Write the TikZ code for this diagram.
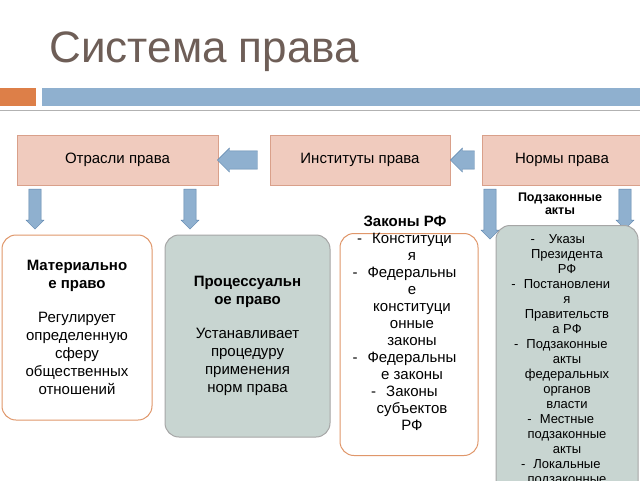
\documentclass[tikz,border=0pt]{standalone}
\usepackage{fontspec}
\setmainfont{Liberation Sans}
\usetikzlibrary{shapes.arrows}
\definecolor{boxpink}{HTML}{F0CBBE}
\definecolor{boxedge}{HTML}{D9A08A}
\definecolor{gboxfill}{HTML}{C8D5D1}
\definecolor{arrblue}{HTML}{8FB0CF}
\definecolor{arredge}{HTML}{5F86AE}
\definecolor{orangeedge}{HTML}{E0976A}
\definecolor{titlecol}{HTML}{6E5E57}
\definecolor{obar}{HTML}{DD7F48}
\begin{document}
\begin{tikzpicture}[x=1pt,y=-1pt,
  top/.style={draw=boxedge,fill=boxpink,minimum height=50pt,font=\fontsize{15}{17}\selectfont},
  rbox/.style={draw=orangeedge,line width=1pt,rounded corners=14pt,align=center,inner sep=2pt},
  gbox/.style={draw=gray!70,fill=gboxfill,line width=1pt,rounded corners=14pt,align=center,inner sep=2pt},
  darr/.style={single arrow,draw=arredge,fill=arrblue,shape border rotate=270,minimum width=18pt,single arrow head extend=2pt,single arrow tip angle=90,inner sep=4pt,minimum height=40pt},
  larr/.style={single arrow,draw=arredge,fill=arrblue,shape border rotate=180,minimum width=24pt,single arrow head extend=2pt,inner sep=6pt}]
\clip (0,0) rectangle (640,480);
\fill[white] (0,0) rectangle (640,480);
\node[anchor=west,text=titlecol,font=\fontsize{44}{46}\selectfont] (title) at (46,52) {Система права};
\fill[obar] (0,88) rectangle (36,106);
\fill[arrblue] (42,88) rectangle (640,106);
\draw[gray!60] (0,110) -- (640,110);
\node[top,minimum width=201pt] (otr) at (117.5,160) {Отрасли права};
\node[top,minimum width=180pt] (inst) at (360,160) {Институты права};
\node[top,minimum width=160pt] (norm) at (562,160) {Нормы права};
\node[larr,minimum height=24pt] (a1) at (467,160) {};
\node[larr,minimum height=40pt] (a2) at (242,160) {};
\node[darr] (d1) at (35,206) {};
\node[darr] (d2) at (190,206) {};
\node[darr,minimum height=50pt] (d3) at (490,211) {};
\node[darr] (d4) at (625,206) {};
\node[rbox,minimum width=150pt,minimum height=185pt,font=\fontsize{15}{18}\selectfont] (mat) at (77,327.5)
 {\textbf{Материально}\\\textbf{е право}\\[16pt]Регулирует\\определенную\\сферу\\общественных\\отношений};
\node[gbox,minimum width=165pt,minimum height=202pt,font=\fontsize{15}{18}\selectfont] (proc) at (247.5,336)
 {\textbf{Процессуальн}\\\textbf{ое право}\\[16pt]Устанавливает\\процедуру\\применения\\норм права};
\node[rbox,minimum width=138pt,minimum height=222pt,anchor=north] (zak) at (409,233) {};
\node[font=\bfseries\fontsize{15}{17}\selectfont] (zakt) at (405,221) {Законы РФ};
\node[anchor=north,align=center,font=\fontsize{15}{17}\selectfont] (zaktext) at (412,230)
 {\makebox[0pt][r]{-\hspace{10pt}}Конституци\\я\\\makebox[0pt][r]{-\hspace{10pt}}Федеральны\\е\\конституци\\онные\\законы\\\makebox[0pt][r]{-\hspace{10pt}}Федеральны\\е законы\\\makebox[0pt][r]{-\hspace{10pt}}Законы\\субъектов\\РФ};
\node[gbox,minimum width=142pt,minimum height=270pt,anchor=north] (pod) at (567,225) {};
\node[font=\bfseries\fontsize{12.5}{13}\selectfont,align=center] (podt) at (560,204) {Подзаконные\\акты};
\node[anchor=north,align=center,font=\fontsize{13}{15}\selectfont] (podtext) at (567,231)
 {\makebox[0pt][r]{-\hspace{14pt}}Указы\\Президента\\РФ\\\makebox[0pt][r]{-\hspace{8pt}}Постановлени\\я\\Правительств\\а РФ\\\makebox[0pt][r]{-\hspace{8pt}}Подзаконные\\акты\\федеральных\\органов\\власти\\\makebox[0pt][r]{-\hspace{8pt}}Местные\\подзаконные\\акты\\\makebox[0pt][r]{-\hspace{8pt}}Локальные\\подзаконные};
\end{tikzpicture}
\end{document}
